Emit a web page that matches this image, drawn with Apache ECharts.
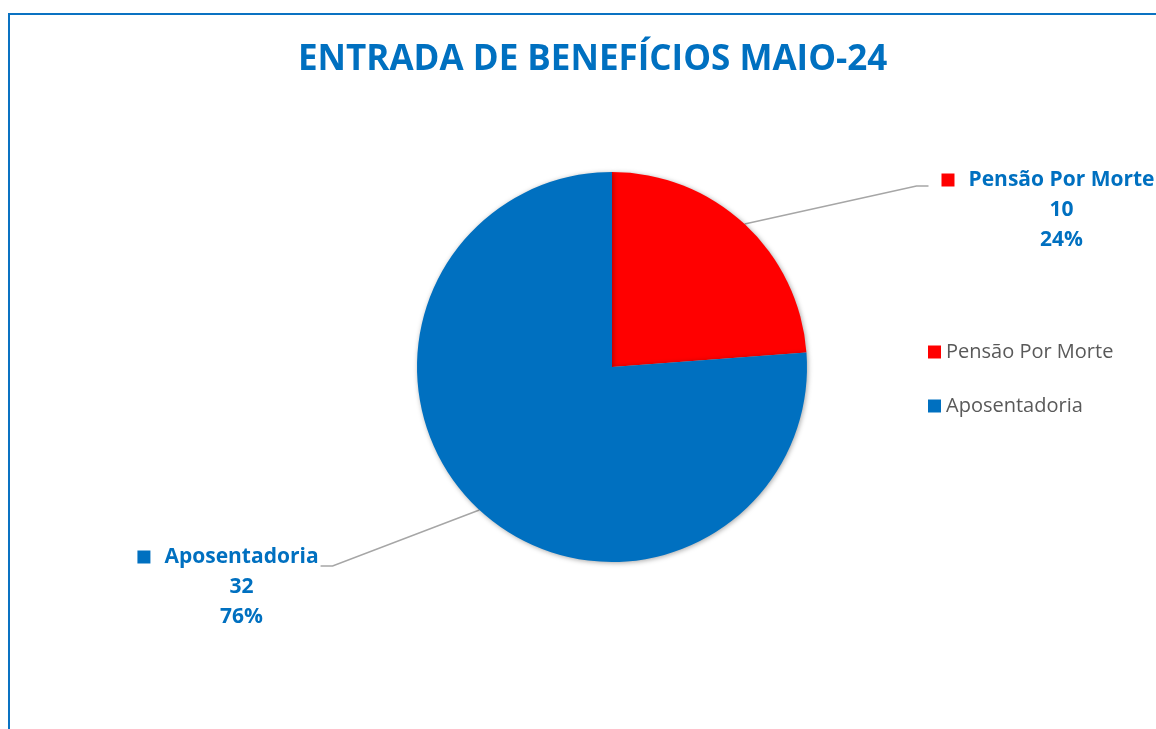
<!DOCTYPE html>
<html>
<head>
<meta charset="utf-8">
<script src="https://cdn.jsdelivr.net/npm/echarts@6/dist/echarts.min.js"></script>
<style>
    html, body { margin: 0; padding: 0; background: #fff; }
    #frame {
        position: absolute; left: 8px; top: 13px; width: 1200px; height: 800px;
        border-left: 2px solid #0a72c2; border-top: 2px solid #0a72c2;
    }
    #main { position: absolute; left: 0; top: 0; width: 1156px; height: 729px; }
</style>
</head>
<body>
<div id="frame"></div>
<div id="main"></div>
<script>
var categories = ['Pensão Por Morte', 'Aposentadoria'];
var values = [10, 32];
var colors = ['#ff0000', '#0070c0'];

var FONT = '"Open Sans", Lato, sans-serif';
var BLUE = '#0070c0';

// where the data labels sit (center x, top y of the label block)
var labelSpots = [
    { cx: 1048, top: 165, side: 'right' },
    { cx: 228, top: 542, side: 'left' }
];

var chart = echarts.init(document.getElementById('main'));

var total = values.reduce(function (a, b) { return a + b; }, 0);

var option = {
    color: colors,
    textStyle: { fontFamily: FONT },
    title: {
        text: 'ENTRADA DE BENEFÍCIOS MAIO-24',
        left: 293,
        top: 38,
        textStyle: {
            fontFamily: FONT,
            fontSize: 35,
            fontWeight: 'bold',
            color: BLUE
        }
    },
    legend: {
        orient: 'vertical',
        left: 923,
        top: 337,
        itemWidth: 13,
        itemHeight: 13,
        itemGap: 34,
        icon: 'rect',
        data: categories,
        textStyle: {
            fontFamily: FONT,
            fontSize: 20,
            color: '#595959'
        }
    },
    series: [{
        type: 'pie',
        center: [612, 367],
        radius: 195,
        startAngle: 90,
        clockwise: true,
        silent: true,
        itemStyle: {
            shadowBlur: 5,
            shadowColor: 'rgba(0,0,0,0.35)',
            shadowOffsetX: 1,
            shadowOffsetY: 1
        },
        data: categories.map(function (name, i) {
            return {
                name: name,
                value: values[i],
                label: {
                    rich: {
                        sq: { width: 13, height: 13, backgroundColor: colors[i] }
                    }
                }
            };
        }),
        label: {
            show: true,
            formatter: function (p) {
                var pct = Math.round(p.value / total * 100) + '%';
                return '{sq|}{name|' + p.name + '}\n{v|' + p.value + '}\n{v|' + pct + '}';
            },
            rich: {
                name: {
                    fontFamily: FONT, fontSize: 21, fontWeight: 'bold', color: BLUE,
                    lineHeight: 30, padding: [0, 0, 0, 14]
                },
                v: {
                    fontFamily: FONT, fontSize: 21, fontWeight: 'bold', color: BLUE,
                    lineHeight: 30, padding: [0, 0, 0, 27]
                }
            }
        },
        labelLine: {
            show: true,
            lineStyle: { color: '#a6a6a6', width: 1.5 }
        },
        labelLayout: function (params) {
            var spot = labelSpots[params.dataIndex];
            var w = params.labelRect.width;
            var left = spot.cx - w / 2;
            var start = params.labelLinePoints[0];
            var pts;
            if (spot.side === 'right') {
                var y1 = spot.top + 21;
                pts = [start, [left - 25, y1], [left - 13, y1]];
            } else {
                var y2 = spot.top + 24;
                var right = spot.cx + w / 2;
                pts = [start, [right + 14, y2], [right + 2, y2]];
            }
            return {
                x: spot.cx,
                y: spot.top,
                align: 'center',
                verticalAlign: 'top',
                labelLinePoints: pts
            };
        }
    }]
};

chart.setOption(option);
</script>
</body>
</html>
